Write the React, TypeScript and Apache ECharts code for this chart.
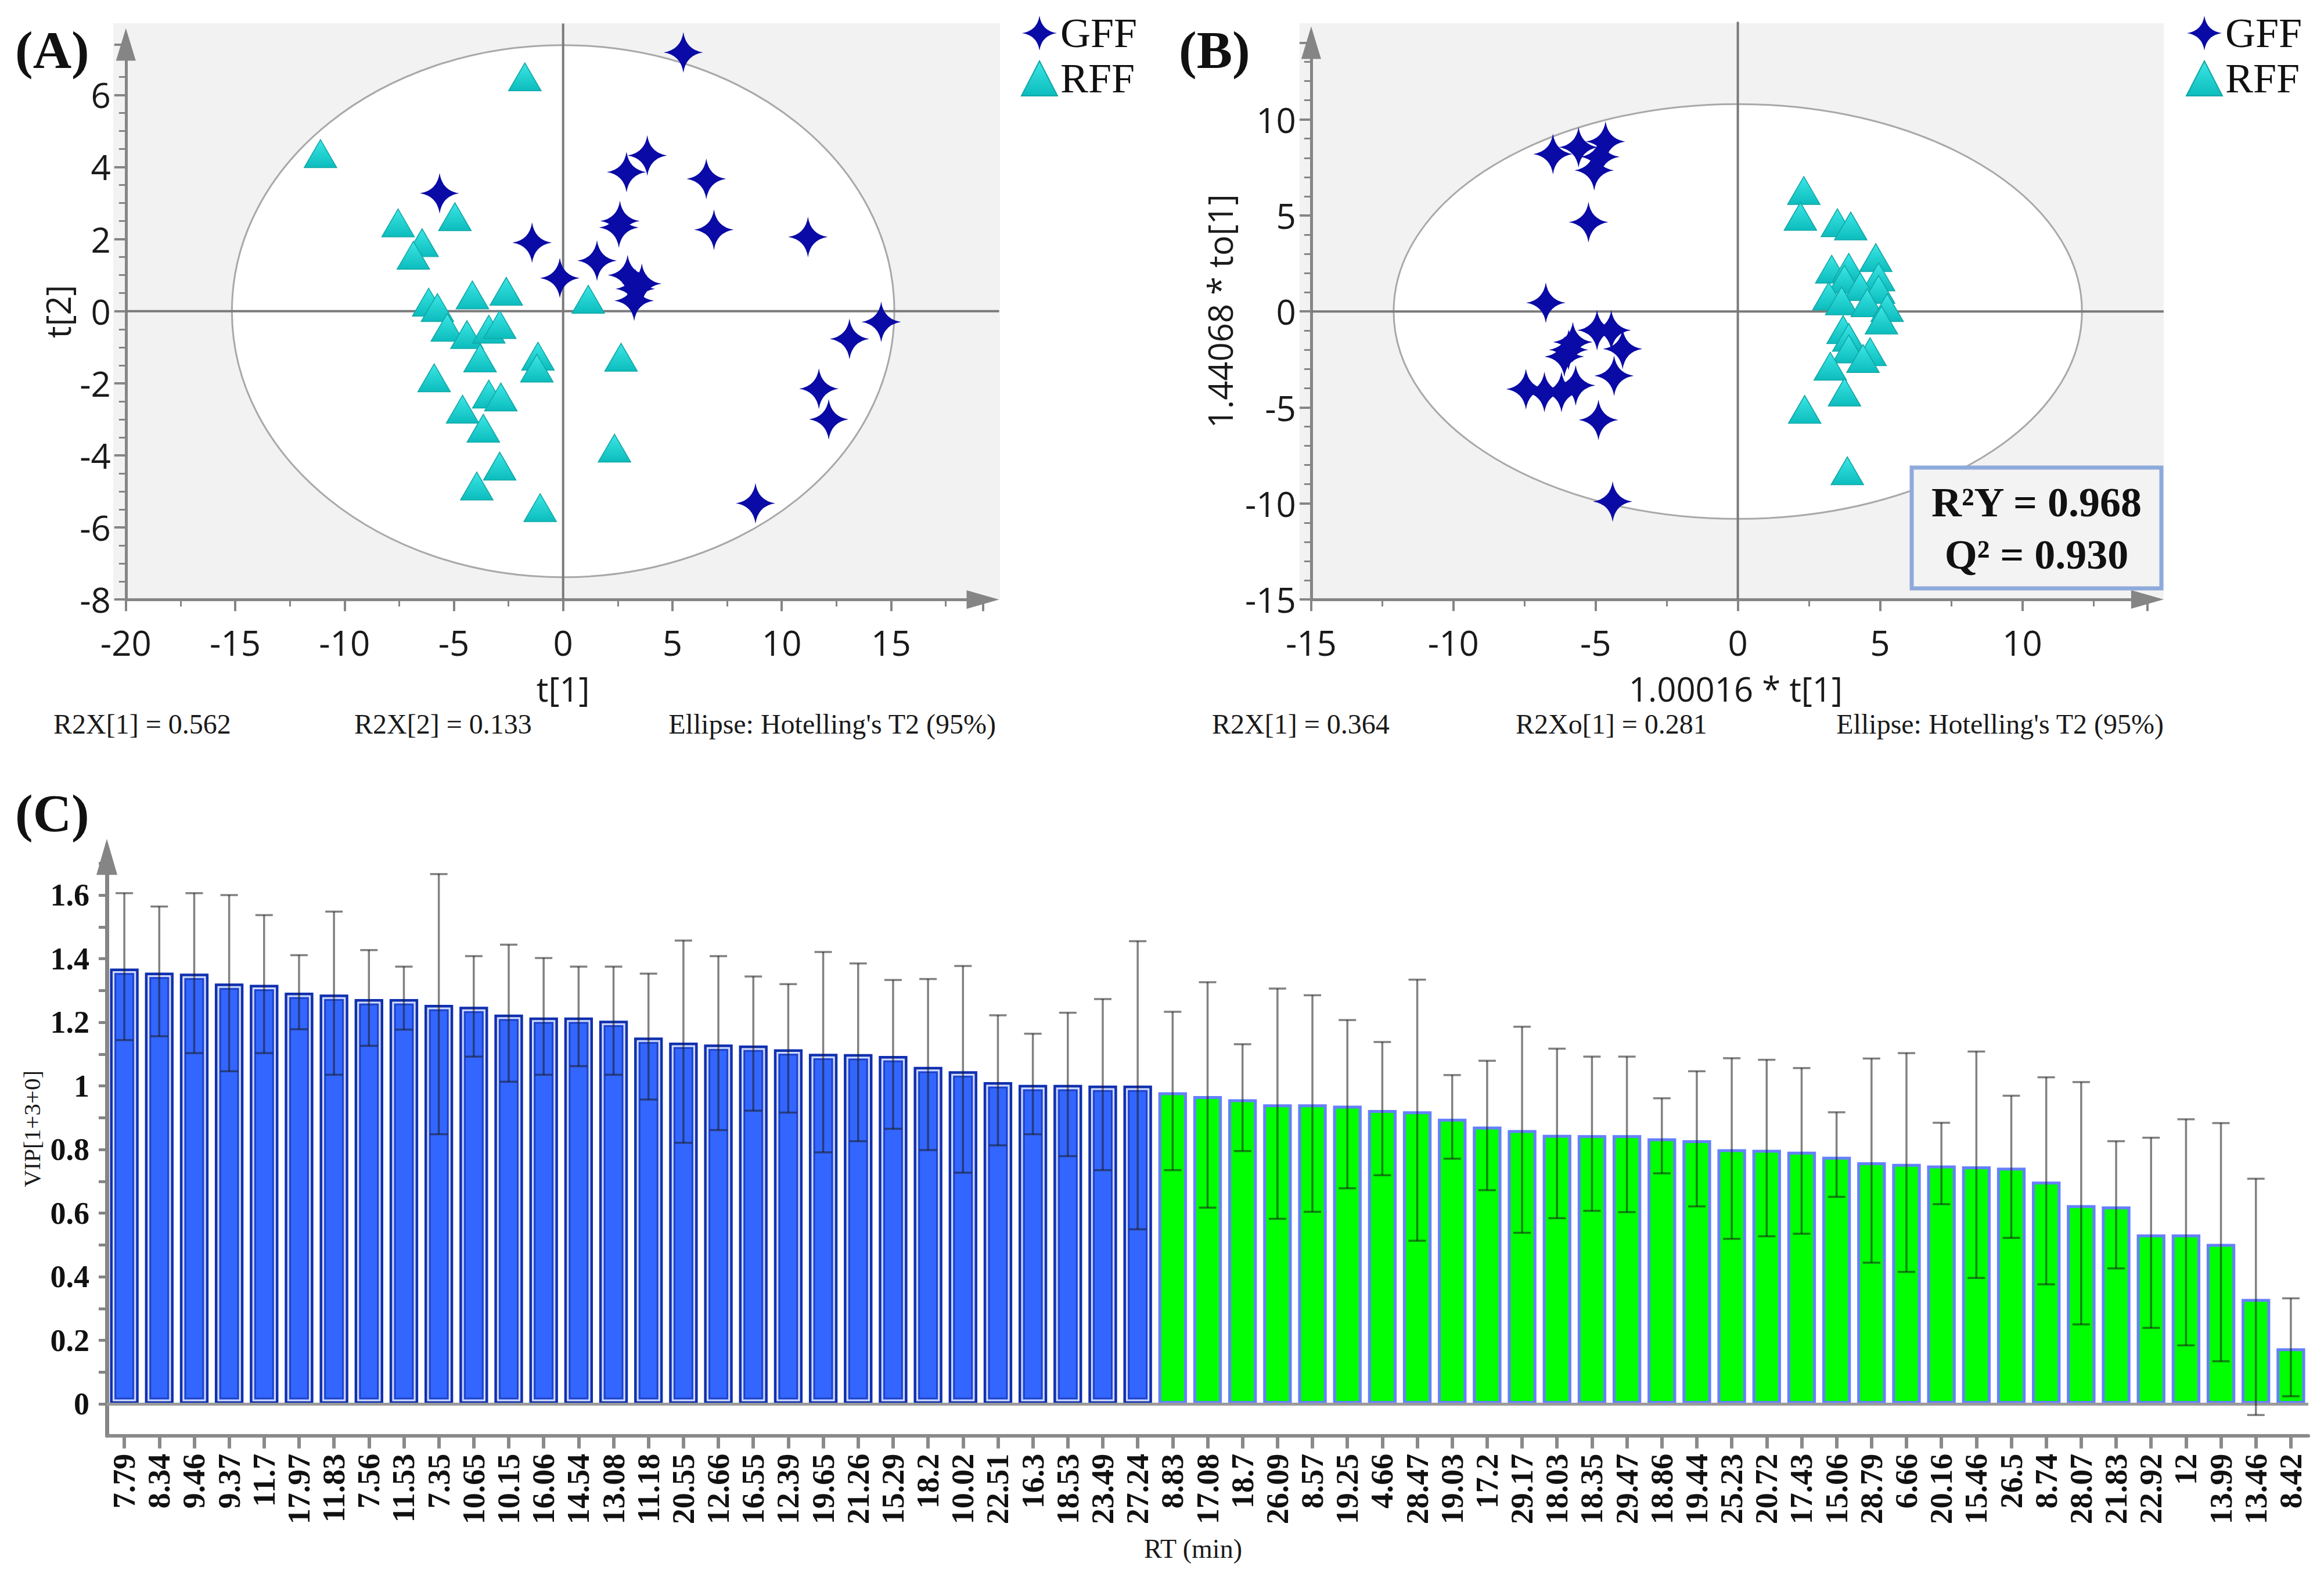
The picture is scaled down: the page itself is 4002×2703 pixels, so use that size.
import React, { useEffect, useRef } from "react";
import * as echarts from "echarts";

// ---------- DATA ----------
// Panel A (PCA scores: t[1], t[2])
const gffA: number[][] = [
  [5.5, 7.18], [3.85, 4.32], [2.9, 3.86], [6.55, 3.67], [-5.65, 3.27], [2.6, 2.5], [2.55, 2.32],
  [6.9, 2.26], [11.2, 2.06], [-1.42, 1.9], [1.55, 1.4], [-0.15, 0.92], [2.95, 1.0], [3.6, 0.76],
  [3.3, 0.62], [3.25, 0.29], [14.55, -0.3], [13.1, -0.77], [11.7, -2.15], [12.15, -3.0], [8.8, -5.33],
];
const rffA: number[][] = [
  [-1.75, 6.5], [-11.1, 4.37], [-7.55, 2.45], [-4.95, 2.62], [-6.45, 1.9], [-6.85, 1.55], [-6.15, 0.25],
  [-5.75, 0.1], [-4.15, 0.45], [-2.6, 0.55], [1.15, 0.33], [-5.3, -0.45], [-4.4, -0.65], [-3.4, -0.5],
  [-2.9, -0.37], [-3.8, -1.3], [-1.15, -1.25], [-1.2, -1.58], [2.65, -1.28], [-5.9, -1.85], [-3.4, -2.3],
  [-2.85, -2.38], [-4.6, -2.72], [-3.65, -3.25], [2.35, -3.8], [-2.9, -4.3], [-3.95, -4.85], [-1.05, -5.45],
];
// Panel B (OPLS-DA scores: 1.00016*t[1], 1.44068*to[1])
const gffB: number[][] = [
  [-6.5, 8.2], [-5.6, 8.55], [-4.65, 8.85], [-4.85, 8.05], [-5.05, 7.35], [-5.25, 4.65], [-6.75, 0.45],
  [-4.95, -0.98], [-4.45, -0.98], [-4.05, -1.95], [-5.8, -1.6], [-5.95, -2.0], [-6.1, -2.35], [-4.35, -3.35],
  [-7.45, -4.05], [-6.8, -4.2], [-6.2, -4.2], [-5.7, -3.85], [-4.9, -5.65], [-4.4, -9.9],
];
const rffB: number[][] = [
  [2.32, 6.3], [2.2, 4.95], [3.5, 4.62], [3.97, 4.45], [4.85, 2.8], [3.3, 2.2], [3.9, 2.3], [4.95, 1.8],
  [3.75, 1.68], [4.3, 1.3], [4.95, 1.15], [3.2, 0.8], [3.65, 0.55], [4.55, 0.45], [5.25, 0.2], [5.05, -0.45],
  [3.7, -0.95], [3.9, -1.35], [4.65, -2.1], [3.9, -1.95], [4.4, -2.45], [3.25, -2.85], [3.75, -4.2],
  [2.35, -5.1], [3.85, -8.3],
];
// Hotelling's T2 ellipses: [cx, cy, rx, ry]
const ellipseA = [0, 0, 15.15, 7.38];
const ellipseB = [0, 0, 12.1, 10.8];

// Panel C (VIP plot)
const rtLabels = [
  "7.79", "8.34", "9.46", "9.37", "11.7", "17.97", "11.83", "7.56", "11.53", "7.35", "10.65", "10.15",
  "16.06", "14.54", "13.08", "11.18", "20.55", "12.66", "16.55", "12.39", "19.65", "21.26", "15.29",
  "18.2", "10.02", "22.51", "16.3", "18.53", "23.49", "27.24",
  "8.83", "17.08", "18.7", "26.09", "8.57", "19.25", "4.66", "28.47", "19.03", "17.2", "29.17", "18.03",
  "18.35", "29.47", "18.86", "19.44", "25.23", "20.72", "17.43", "15.06", "28.79", "6.66", "20.16",
  "15.46", "26.5", "8.74", "28.07", "21.83", "22.92", "12", "13.99", "13.46", "8.42",
];
const vip = [
  1.369, 1.356, 1.353, 1.322, 1.318, 1.293, 1.287, 1.273, 1.273, 1.255, 1.249, 1.224, 1.215, 1.215, 1.205,
  1.152, 1.136, 1.13, 1.127, 1.115, 1.101, 1.1, 1.094, 1.06, 1.046, 1.012, 1.003, 1.003, 1.001, 1.001,
  0.98, 0.968, 0.958, 0.942, 0.942, 0.938, 0.924, 0.92, 0.897, 0.872, 0.861, 0.846, 0.845, 0.845, 0.835,
  0.829, 0.801, 0.799, 0.793, 0.777, 0.76, 0.755, 0.75, 0.747, 0.743, 0.699, 0.625, 0.621, 0.533, 0.533,
  0.503, 0.33, 0.175,
];
const vipHigh = [
  1.606, 1.564, 1.606, 1.6, 1.537, 1.411, 1.548, 1.427, 1.375, 1.666, 1.408, 1.444, 1.402, 1.375, 1.375,
  1.353, 1.457, 1.408, 1.344, 1.32, 1.421, 1.385, 1.333, 1.336, 1.377, 1.222, 1.164, 1.23, 1.273, 1.455,
  1.233, 1.326, 1.131, 1.306, 1.285, 1.207, 1.138, 1.334, 1.034, 1.079, 1.186, 1.117, 1.092, 1.092, 0.961,
  1.046, 1.087, 1.082, 1.056, 0.917, 1.086, 1.103, 0.884, 1.108, 0.969, 1.027, 1.012, 0.826, 0.837, 0.895,
  0.883, 0.708, 0.332,
];
const vipLow = [
  1.144, 1.156, 1.103, 1.046, 1.103, 1.178, 1.035, 1.126, 1.177, 0.848, 1.092, 1.013, 1.035, 1.062, 1.035,
  0.957, 0.821, 0.861, 0.922, 0.916, 0.791, 0.826, 0.865, 0.798, 0.727, 0.813, 0.848, 0.779, 0.735, 0.549,
  0.735, 0.617, 0.795, 0.582, 0.604, 0.678, 0.719, 0.513, 0.771, 0.672, 0.538, 0.584, 0.607, 0.603, 0.725,
  0.621, 0.519, 0.527, 0.535, 0.651, 0.444, 0.415, 0.628, 0.396, 0.522, 0.376, 0.25, 0.426, 0.239, 0.184,
  0.134, -0.035, 0.024,
];
const vipLabelTicks = [0, 0.2, 0.4, 0.6, 0.8, 1, 1.2, 1.4, 1.6];
const vipAllTicks = [0, 0.1, 0.2, 0.3, 0.4, 0.5, 0.6, 0.7, 0.8, 0.9, 1, 1.1, 1.2, 1.3, 1.4, 1.5, 1.6, 1.7];

// ---------- STYLE ----------
const STAR = "path://M0,-10 Q1.3,-1.3 10,0 Q1.3,1.3 0,10 Q-1.3,1.3 -10,0 Q-1.3,-1.3 0,-10 Z";
const SANS = "'Open Sans', 'Liberation Sans', sans-serif";
const SERIF = "'Liberation Serif', 'Times New Roman', serif";
const AXIS_GRAY = "#858585";
const extA = { xMin: -20, xMax: 19.2, yMin: -8, yMax: 7.4 };
const extB = { xMin: -15, xMax: 14.4, yMin: -15, yMax: 14 };

function ellipseRender(ext: any) {
  return (params: any, api: any) => {
    const c = api.coord([api.value(0), api.value(1)]);
    const s = api.size([api.value(2), api.value(3)]);
    const top = api.coord([0, ext.yMax]);
    const bot = api.coord([0, ext.yMin]);
    const l = api.coord([ext.xMin, 0]);
    const r = api.coord([ext.xMax, 0]);
    return {
      type: "group",
      children: [
        { type: "ellipse", shape: { cx: c[0], cy: c[1], rx: s[0], ry: s[1] }, style: { fill: "#ffffff", stroke: "#a8a8a8", lineWidth: 3 } },
        { type: "line", shape: { x1: top[0], y1: top[1] - 36, x2: bot[0], y2: bot[1] }, style: { stroke: "#7a7a7a", lineWidth: 4 } },
        { type: "line", shape: { x1: l[0], y1: l[1], x2: r[0] + 28, y2: r[1] }, style: { stroke: "#7a7a7a", lineWidth: 4 } },
      ],
    };
  };
}

function scatterAxisX(grid: number, ext: any, name: string, namePad: number) {
  return {
    gridIndex: grid, type: "value", min: ext.xMin, max: ext.xMax, interval: 5,
    axisLine: { show: true, onZero: false, symbol: ["none", "triangle"], symbolSize: [32, 56], lineStyle: { color: AXIS_GRAY, width: 5 } },
    axisTick: { show: true, length: 20, lineStyle: { color: AXIS_GRAY, width: 4 } },
    minorTick: { show: true, splitNumber: 2, length: 12, lineStyle: { color: AXIS_GRAY, width: 3 } },
    axisLabel: { fontSize: 60, fontFamily: SANS, color: "#1a1a1a", margin: 44, showMaxLabel: false },
    splitLine: { show: false },
    name, nameLocation: "middle", nameGap: 124,
    nameTextStyle: { fontSize: 58, fontFamily: SANS, color: "#1a1a1a", padding: [0, 0, 0, namePad] },
  };
}
function scatterAxisY(grid: number, ext: any, interval: number, minorSplit: number, name: string, nameGap: number, namePad: number) {
  return {
    gridIndex: grid, type: "value", min: ext.yMin, max: ext.yMax, interval,
    axisLine: { show: true, onZero: false, symbol: ["none", "triangle"], symbolSize: [34, 56], lineStyle: { color: AXIS_GRAY, width: 5 } },
    axisTick: { show: true, length: 20, lineStyle: { color: AXIS_GRAY, width: 4 } },
    minorTick: { show: true, splitNumber: minorSplit, length: 12, lineStyle: { color: AXIS_GRAY, width: 3 } },
    axisLabel: { fontSize: 60, fontFamily: SANS, color: "#1a1a1a", margin: 26, showMaxLabel: false },
    splitLine: { show: false },
    name, nameLocation: "middle", nameGap,
    nameTextStyle: { fontSize: 58, fontFamily: SANS, color: "#1a1a1a", padding: [0, 0, 0, namePad] },
  };
}

const triColor = new echarts.graphic.LinearGradient(0, 0, 0, 1, [
  { offset: 0, color: "#3be6e6" },
  { offset: 1, color: "#0cbcbc" },
]);

function scatterSeries(name: string, data: number[][], grid: number, isStar: boolean) {
  return {
    type: "scatter", name, xAxisIndex: grid, yAxisIndex: grid, data, z: 4,
    symbol: isStar ? STAR : "triangle",
    symbolSize: isStar ? [68, 70] : [56, 48],
    itemStyle: isStar
      ? { color: "#0a0aa6", opacity: 1 }
      : { color: triColor, borderColor: "#12a6a6", borderWidth: 1.5, opacity: 1 },
  };
}

function textEl(text: string, x: number, y: number, size: number, opts: any = {}) {
  const align = opts.align || "left";
  return {
    type: "text", x, y, z: 10,
    style: {
      text, fontSize: size, fontFamily: opts.family || SERIF, fontWeight: opts.weight || "normal",
      fill: opts.color || "#1a1a1a", align, textAlign: align, verticalAlign: "middle", textVerticalAlign: "middle",
    },
  };
}

function legendAt(left: number) {
  return {
    orient: "vertical", left, top: 21, itemWidth: 62, itemHeight: 60, itemGap: 6, padding: 0,
    textStyle: { fontSize: 72, lineHeight: 72, fontFamily: SERIF, color: "#111" },
    data: [{ name: "GFF", icon: STAR }, { name: "RFF", icon: "triangle" }],
  };
}

function buildOption() {
  const barData = vip.map((v, i) => ({
    value: v,
    itemStyle: i < 30
      ? { color: "#3366ff", borderColor: "#1030b0", borderWidth: 5 }
      : { color: "#00ff00", borderColor: "#6680ff", borderWidth: 5 },
  }));
  const overlayData = vip.map((v, i) => [i, v, vipLow[i], vipHigh[i], i < 30 ? 1 : 0]);

  return {
    animation: false,
    backgroundColor: "#ffffff",
    graphic: [
      { type: "rect", z: -5, shape: { x: 195, y: 40, width: 1527, height: 993 }, style: { fill: "#f2f2f2" } },
      { type: "rect", z: -5, shape: { x: 2238, y: 40, width: 1488, height: 993 }, style: { fill: "#f2f2f2" } },
      textEl("(A)", 26, 86, 92, { weight: "bold", color: "#111" }),
      textEl("(B)", 2030, 86, 92, { weight: "bold", color: "#111" }),
      textEl("(C)", 26, 1400, 92, { weight: "bold", color: "#111" }),
      textEl("R2X[1] = 0.562", 92, 1246, 48),
      textEl("R2X[2] = 0.133", 610, 1246, 48),
      textEl("Ellipse: Hotelling's T2 (95%)", 1715, 1246, 48, { align: "right" }),
      textEl("R2X[1] = 0.364", 2087, 1246, 48),
      textEl("R2Xo[1] = 0.281", 2610, 1246, 48),
      textEl("Ellipse: Hotelling's T2 (95%)", 3726, 1246, 48, { align: "right" }),
      { type: "rect", z: 9, shape: { x: 3292, y: 805, width: 430, height: 208 }, style: { fill: "#f3f3f3", stroke: "#8eaadb", lineWidth: 7 } },
      textEl("R²Y = 0.968", 3507, 865, 72, { weight: "bold", align: "center", color: "#111" }),
      textEl("Q² = 0.930", 3507, 955, 72, { weight: "bold", align: "center", color: "#111" }),
    ],
    legend: [legendAt(1758), legendAt(3764)],
    grid: [
      { left: 216.8, right: 2309.5, top: 76.5, bottom: 1670.8 },
      { left: 2257.9, right: 304.1, top: 73.4, bottom: 1670.9 },
      { left: 184, right: 27, top: 1475.3, bottom: 231.25 },
    ],
    xAxis: [
      scatterAxisX(0, extA, "t[1]", 30),
      scatterAxisX(1, extB, "1.00016 * t[1]", 22),
      {
        gridIndex: 2, type: "category", data: rtLabels,
        axisLine: { show: true, onZero: false, lineStyle: { color: "#8a8a8a", width: 6 } },
        axisTick: { show: true, alignWithLabel: true, length: 22, lineStyle: { color: "#8a8a8a", width: 6 } },
        axisLabel: { interval: 0, rotate: 90, fontSize: 54, fontWeight: "bold", fontFamily: SERIF, color: "#111", margin: 31 },
        name: "RT (min)", nameLocation: "middle", nameGap: 172,
        nameTextStyle: { fontSize: 46, fontFamily: SERIF, color: "#1a1a1a", padding: [0, 50, 0, 0] },
      },
    ],
    yAxis: [
      scatterAxisY(0, extA, 2, 4, "t[2]", 88, 36),
      scatterAxisY(1, extB, 5, 5, "1.44068 * to[1]", 128, 34),
      {
        gridIndex: 2, type: "value", min: -0.1, max: 1.72,
        axisLine: { show: true, onZero: false, symbol: ["none", "triangle"], symbolSize: [36, 62], lineStyle: { color: AXIS_GRAY, width: 7 } },
        axisTick: { show: true, length: 14, customValues: vipAllTicks, lineStyle: { color: AXIS_GRAY, width: 5 } },
        axisLabel: { customValues: vipLabelTicks, fontSize: 54, fontWeight: "bold", fontFamily: SERIF, color: "#111", margin: 30 },
        splitLine: { show: false },
        name: "VIP[1+3+0]", nameLocation: "middle", nameGap: 100,
        nameTextStyle: { fontSize: 41, fontFamily: SERIF, color: "#1a1a1a", padding: [0, 0, 0, 60] },
      },
    ],
    series: [
      { type: "custom", name: "ellipseA", xAxisIndex: 0, yAxisIndex: 0, z: 1, clip: false, silent: true, renderItem: ellipseRender(extA), data: [ellipseA] },
      scatterSeries("GFF", gffA, 0, true),
      scatterSeries("RFF", rffA, 0, false),
      { type: "custom", name: "ellipseB", xAxisIndex: 1, yAxisIndex: 1, z: 1, clip: false, silent: true, renderItem: ellipseRender(extB), data: [ellipseB] },
      scatterSeries("GFF", gffB, 1, true),
      scatterSeries("RFF", rffB, 1, false),
      {
        type: "bar", name: "VIP", xAxisIndex: 2, yAxisIndex: 2, data: barData, barWidth: "82%", z: 2,
        markLine: {
          silent: true, symbol: ["none", "none"], label: { show: false },
          lineStyle: { color: "#9a9a9a", width: 5, type: "solid" },
          data: [{ yAxis: 0 }],
        },
      },
      {
        type: "custom", name: "VIP detail", xAxisIndex: 2, yAxisIndex: 2, z: 5, clip: false, silent: true,
        data: overlayData,
        renderItem: (params: any, api: any) => {
          const i = api.value(0);
          const v = api.value(1);
          const lo = api.value(2);
          const hi = api.value(3);
          const blue = api.value(4);
          const top = api.coord([i, v]);
          const base = api.coord([i, 0]);
          const bw = api.size([1, 0])[0] * 0.82;
          const pLo = api.coord([i, lo]);
          const pHi = api.coord([i, hi]);
          const children: any[] = [];
          if (blue) {
            children.push({
              type: "rect",
              shape: { x: top[0] - bw / 2 + 6, y: top[1] + 6, width: bw - 12, height: base[1] - top[1] - 12 },
              style: { fill: "none", stroke: "#d2daf6", lineWidth: 3 },
            });
            children.push({
              type: "rect",
              shape: { x: top[0] - bw / 2 + 9.5, y: top[1] + 9.5, width: bw - 19, height: base[1] - top[1] - 19 },
              style: { fill: "none", stroke: "#1f41c2", lineWidth: 2.5 },
            });
          }
          const ec = "rgba(25,25,25,0.55)";
          children.push({ type: "line", shape: { x1: pHi[0], y1: pHi[1], x2: pLo[0], y2: pLo[1] }, style: { stroke: ec, lineWidth: 3.5 } });
          children.push({ type: "line", shape: { x1: pHi[0] - 15, y1: pHi[1], x2: pHi[0] + 15, y2: pHi[1] }, style: { stroke: ec, lineWidth: 3.5 } });
          children.push({ type: "line", shape: { x1: pLo[0] - 15, y1: pLo[1], x2: pLo[0] + 15, y2: pLo[1] }, style: { stroke: ec, lineWidth: 3.5 } });
          return { type: "group", children };
        },
      },
    ],
  };
}

export default function App() {
  const ref = useRef<HTMLDivElement>(null);
  useEffect(() => {
    if (!ref.current) return;
    const chart = echarts.init(ref.current, null, { renderer: "svg" });
    chart.setOption(buildOption() as any);
    return () => chart.dispose();
  }, []);
  return (
    <div
      ref={ref}
      style={{ position: "fixed", left: 0, top: 0, width: 4002, height: 2703, background: "#ffffff" }}
    />
  );
}
